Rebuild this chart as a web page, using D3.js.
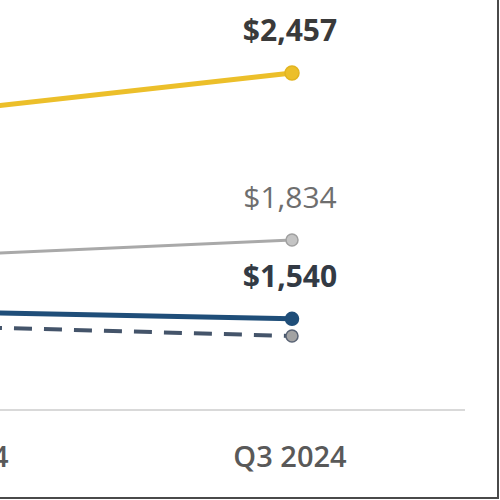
<!doctype html>
<html lang="en">
  <head>
    <meta charset="utf-8">
    <script src="https://d3js.org/d3.v7.min.js"></script>
    <style>
      body { margin: 0; background: #fff; }
      svg { display: block; font-family: "Open Sans", "Noto Sans", sans-serif; }
    </style>
  </head>
  <body>
    <div id="container"></div>
  </body>
  <script>
    // Data (only the last two quarters are visible)
    const quarters = ["Q2 2024", "Q3 2024"]
    const seriesNames = ["Yellow", "Gray", "Blue", "Dashed"]
    const yellowValues = [2317, 2457]
    const grayValues = [1778, 1834]
    const blueValues = [1565, 1540]
    const dashedValues = [1511, 1476]
    const labelled = [true, true, true, false]

    const width = 500
    const height = 500

    const svg = d3.select("#container")
      .append("svg")
        .attr("width", width)
        .attr("height", height)

    // the chart is cropped, so the first point sits off the left edge
    const x = d3.scalePoint()
      .domain(quarters)
      .range([-46, 292])

    const y = d3.scaleLinear()
      .domain([1200, 2457])
      .range([410, 73])

    // baseline
    svg.append("line")
      .attr("x1", -60)
      .attr("x2", 465)
      .attr("y1", y(1200))
      .attr("y2", y(1200))
      .attr("stroke", "#d9d9d9")
      .attr("stroke-width", 2)

    // x tick labels
    svg.selectAll(".tick-label")
      .data(quarters)
      .join("text")
        .attr("class", "tick-label")
        .attr("x", d => x(d) - 2)
        .attr("y", 467)
        .attr("text-anchor", "middle")
        .attr("font-size", 29)
        .attr("font-weight", 600)
        .attr("fill", "#595959")
        .text(d => d)

    const series = [
      {name: seriesNames[0], values: yellowValues, stroke: "#ecbf2a", width: 5, dash: null, r: 7, fill: "#ecbf2a", ring: "#e2b420", label: labelled[0], labelColor: "#3a3a3a", bold: true},
      {name: seriesNames[1], values: grayValues, stroke: "#a9a9a9", width: 3, dash: null, r: 6, fill: "#c4c4c4", ring: "#a0a0a0", label: labelled[1], labelColor: "#6e6e6e", bold: false},
      {name: seriesNames[2], values: blueValues, stroke: "#1f4e79", width: 5, dash: null, r: 6.5, fill: "#1f4e79", ring: "#1f4e79", label: labelled[2], labelColor: "#333a44", bold: true},
      {name: seriesNames[3], values: dashedValues, stroke: "#44546a", width: 4, dash: "18,12", r: 6, fill: "#a3a3a3", ring: "#5a6475", label: labelled[3], labelColor: "#44546a", bold: false}
    ]

    const line = d3.line()
      .x((d, i) => x(quarters[i]))
      .y(d => y(d))

    // draw lower series first so the yellow one sits on top
    series.slice().reverse().forEach(s => {
      svg.append("path")
        .datum(s.values)
        .attr("d", line)
        .attr("fill", "none")
        .attr("stroke", s.stroke)
        .attr("stroke-width", s.width)
        .attr("stroke-dasharray", s.dash)

      svg.selectAll(null)
        .data(s.values)
        .join("circle")
          .attr("cx", (d, i) => x(quarters[i]))
          .attr("cy", d => y(d))
          .attr("r", s.r)
          .attr("fill", s.fill)
          .attr("stroke", s.ring)
          .attr("stroke-width", 1.5)

      if (s.label) {
        const last = s.values[s.values.length - 1]
        svg.append("text")
          .attr("x", x(quarters[quarters.length - 1]) - 2)
          .attr("y", y(last) - 32)
          .attr("text-anchor", "middle")
          .attr("font-size", 30)
          .attr("font-weight", s.bold ? 700 : 400)
          .attr("fill", s.labelColor)
          .text(d3.format("$,")(last))
      }
    })

    // dark frame edge on the right and bottom of the crop
    svg.append("rect").attr("x", 497).attr("y", 0).attr("width", 2).attr("height", 499).attr("fill", "#4a4a4a")
    svg.append("rect").attr("x", 0).attr("y", 497).attr("width", 499).attr("height", 2).attr("fill", "#4a4a4a")
  </script>
</html>
